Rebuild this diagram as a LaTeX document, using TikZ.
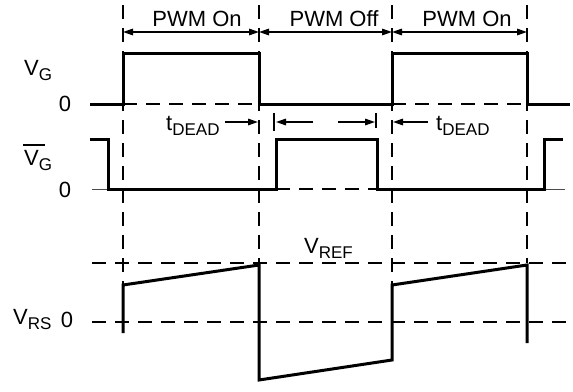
\documentclass[tikz,border=0pt]{standalone}
\usepackage{fontspec}
\setmainfont{Liberation Sans}
\usetikzlibrary{arrows.meta}
\newcommand{\lowsub}[1]{\raisebox{-5pt}{\fontsize{17}{17}\selectfont #1}}
\tikzset{
  wave/.style={line width=3pt, line join=miter, line cap=butt},
  guide/.style={line width=1.3pt, dash pattern=on 14pt off 9pt},
  axis/.style={line width=1pt, draw=black!70},
  dim/.style={line width=1.6pt, -{Triangle[length=10pt,width=6.5pt]}},
  dimboth/.style={line width=1.6pt, {Triangle[length=10pt,width=6.5pt]}-{Triangle[length=10pt,width=6.5pt]}},
  tick/.style={line width=1.4pt},
  lbl/.style={inner sep=0pt, font=\fontsize{22}{22}\selectfont},
  toplbl/.style={inner sep=0pt, anchor=base, font=\fontsize{22}{22}\selectfont}
}
\begin{document}
\begin{tikzpicture}[x=1pt,y=-1pt]
\useasboundingbox (0,0) rectangle (573,391);
% vertical guide lines
\draw[guide] (123,5) -- (123,285);
\draw[guide] (259,5) -- (259,263);
\draw[guide] (392,5) -- (392,285);
\draw[guide] (527,5) -- (527,263);

% top dimension arrows
\coordinate (ta) at (123,32);
\coordinate (tb) at (259,32);
\coordinate (tc) at (392,32);
\coordinate (td) at (527,32);
\draw[dimboth] (ta) -- (tb);
\draw[dimboth] (tb) -- (tc);
\draw[dimboth] (tc) -- (td);
\node[toplbl] (pwm1) at (197,26) {PWM On};
\node[toplbl] (pwm2) at (334,26) {PWM Off};
\node[toplbl] (pwm3) at (467,26) {PWM On};

% V_G
\draw[guide] (123,104) -- (259,104);
\draw[guide] (392,104) -- (527,104);
\draw[wave] (90,104) -- (123,104) -- (123,53) -- (259,53) -- (259,104) -- (392,104) -- (392,53) -- (527,53) -- (527,104) -- (570,104);
\node[lbl, anchor=base west] (vg) at (24,75) {V\lowsub{G}};
\node[lbl, anchor=base] (vg0) at (65,111) {0};

% dead time arrows
\node[lbl, anchor=base west] (td1) at (166,130) {t\lowsub{DEAD}};
\node[lbl, anchor=base west] (td2) at (436,130) {t\lowsub{DEAD}};
\coordinate (d1s) at (225,122);
\coordinate (d1e) at (258,122);
\draw[dim] (d1s) -- (d1e);
\draw[tick] (274,113) -- (274,131);
\coordinate (d2s) at (313,122);
\coordinate (d2e) at (276,122);
\draw[dim] (d2s) -- (d2e);
\coordinate (d3s) at (338,122);
\coordinate (d3e) at (375,122);
\draw[dim] (d3s) -- (d3e);
\draw[tick] (376,113) -- (376,128);
\coordinate (d4s) at (428,122);
\coordinate (d4e) at (393,122);
\draw[dim] (d4s) -- (d4e);

% V_G bar
\draw[axis] (92,189) -- (108,189);
\draw[axis] (544,189) -- (565,189);
\draw[guide] (276,189) -- (377,189);
\draw[wave] (90,139) -- (108,139) -- (108,189) -- (276,189) -- (276,139) -- (377,139) -- (377,189) -- (544,189) -- (544,139) -- (563,139);
\node[lbl, anchor=base west] (vgb) at (24,165) {\makebox[0pt][l]{\hspace{-1pt}\rule[19.5pt]{22pt}{1.1pt}}V\lowsub{G}};
\node[lbl, anchor=base] (vgb0) at (65,197) {0};

% V_RS
\draw[guide] (92,263) -- (570,263);
\draw[guide] (92,322) -- (570,322);
\draw[wave] (123,333) -- (123,285) -- (259,265) -- (259,380) -- (392,360) -- (392,285) -- (527,265) -- (527,343);
\node[lbl, anchor=base west] (vref) at (304,253) {V\lowsub{REF}};
\node[lbl, anchor=base west] (vrs) at (13,324) {V\lowsub{RS}};
\node[lbl, anchor=base] (vrs0) at (67,327) {0};
\end{tikzpicture}
\end{document}
